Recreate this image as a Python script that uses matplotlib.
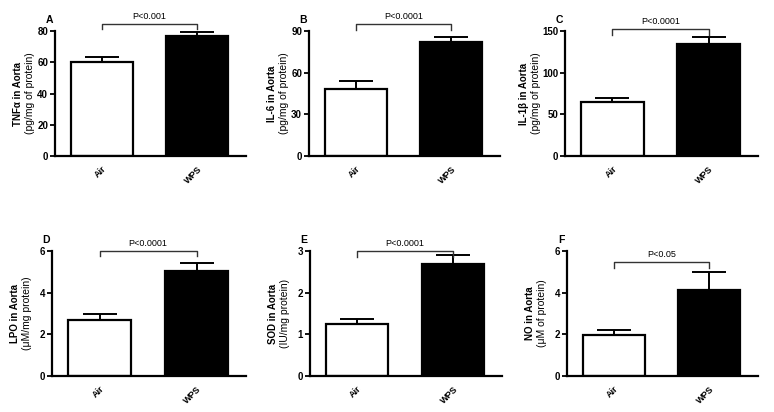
import matplotlib
matplotlib.use("Agg")
import matplotlib.pyplot as plt
from matplotlib.transforms import offset_copy

plt.rcParams['font.family'] = ['Liberation Sans', 'DejaVu Sans']

groups = ["Air", "WPS"]
panel_letters = ["A", "B", "C", "D", "E", "F"]
ylabel_top = ["TNF\u03b1 in Aorta", "IL-6 in Aorta", "IL-1\u03b2 in Aorta",
              "LPO in Aorta", "SOD in Aorta", "NO in Aorta"]
ylabel_bottom = ["(pg/mg of protein)", "(pg/mg of protein)", "(pg/mg of protein)",
                 "(\u03bcM/mg protein)", "(IU/mg protein)", "(\u03bcM of protein)"]
means = [[60.1, 76.8], [48.3, 82.1], [64.6, 134.8],
         [2.67, 5.06], [1.26, 2.70], [1.97, 4.13]]
errs = [[3.2, 2.5], [5.8, 3.3], [4.8, 8.0],
        [0.32, 0.35], [0.12, 0.20], [0.25, 0.85]]
ymax = [80, 90, 150, 6, 3, 6]
yticks = [[0, 20, 40, 60, 80], [0, 30, 60, 90], [0, 50, 100, 150],
          [0, 2, 4, 6], [0, 1, 2, 3], [0, 2, 4, 6]]
pvals = ["P<0.001", "P<0.0001", "P<0.0001", "P<0.0001", "P<0.0001", "P<0.05"]
bracket_y = [84.6, 95.0, 152.4, 6.0, 3.0, 5.46]
bracket_drop = [3.2, 4.1, 6.8, 0.24, 0.14, 0.29]

W, H = 774, 412
fig = plt.figure(figsize=(W / 100, H / 100), dpi=100)

# pixel boxes: left, right, top, bottom
boxes = [(55, 246, 31, 156), (309, 500, 31, 156), (565, 758, 31, 156),
         (52, 246, 251, 376), (310, 502, 251, 376), (567, 758, 251, 376)]

for i in range(6):
    l, r, t, b = boxes[i]
    ax = fig.add_axes([l / W, (H - b) / H, (r - l) / W, (b - t) / H])
    x = [0, 1]
    ax.bar(x, means[i], width=0.65, color=["white", "black"],
           edgecolor="black", linewidth=1.6, zorder=2)
    ax.errorbar(x, means[i], yerr=[[0, 0], errs[i]], fmt="none",
                ecolor="black", elinewidth=1.4, capsize=12.5, capthick=1.4,
                zorder=1)
    ax.set_xlim(-0.49, 1.51)
    ax.set_ylim(0, ymax[i])
    ax.set_yticks(yticks[i])
    ax.set_yticklabels([str(v) for v in yticks[i]], fontsize=7, fontweight="bold")
    ax.set_xticks(x)
    ax.set_xticklabels(groups, rotation=45, ha="right", va="top",
                       rotation_mode="anchor", fontsize=6.5, fontweight="bold")
    ax.tick_params(axis="x", length=0, pad=6)
    ax.tick_params(axis="y", length=3.5, width=1.3, pad=1.5)
    for s in ["top", "right"]:
        ax.spines[s].set_visible(False)
    ax.spines["left"].set_linewidth(1.6)
    ax.spines["bottom"].set_linewidth(1.6)
    # two-line y label, shifted further left when tick labels are wider
    extra = 4 * (max(len(str(v)) for v in yticks[i]) - 2) if max(len(str(v)) for v in yticks[i]) > 2 else 0
    tr1 = offset_copy(ax.transAxes, fig=fig, x=-37 - extra, y=0, units="dots")
    tr2 = offset_copy(ax.transAxes, fig=fig, x=-25 - extra, y=0, units="dots")
    ax.text(0, 0.5, ylabel_top[i], transform=tr1, rotation=90,
            ha="center", va="center", fontsize=7, fontweight="bold")
    ax.text(0, 0.5, ylabel_bottom[i], transform=tr2, rotation=90,
            ha="center", va="center", fontsize=7.5)
    ax.text(-0.03, 1.05, panel_letters[i], transform=ax.transAxes,
            fontsize=7.5, fontweight="bold", ha="center", va="bottom")
    by = bracket_y[i]
    dy = bracket_drop[i]
    ax.plot([0, 0, 1, 1], [by - dy, by, by, by - dy], color="#333333",
            linewidth=1.0, clip_on=False)
    ax.text(0.5, by + ymax[i] * 0.025, pvals[i], ha="center", va="bottom",
            fontsize=6.5, clip_on=False)

fig.savefig("out.png", dpi=100)
